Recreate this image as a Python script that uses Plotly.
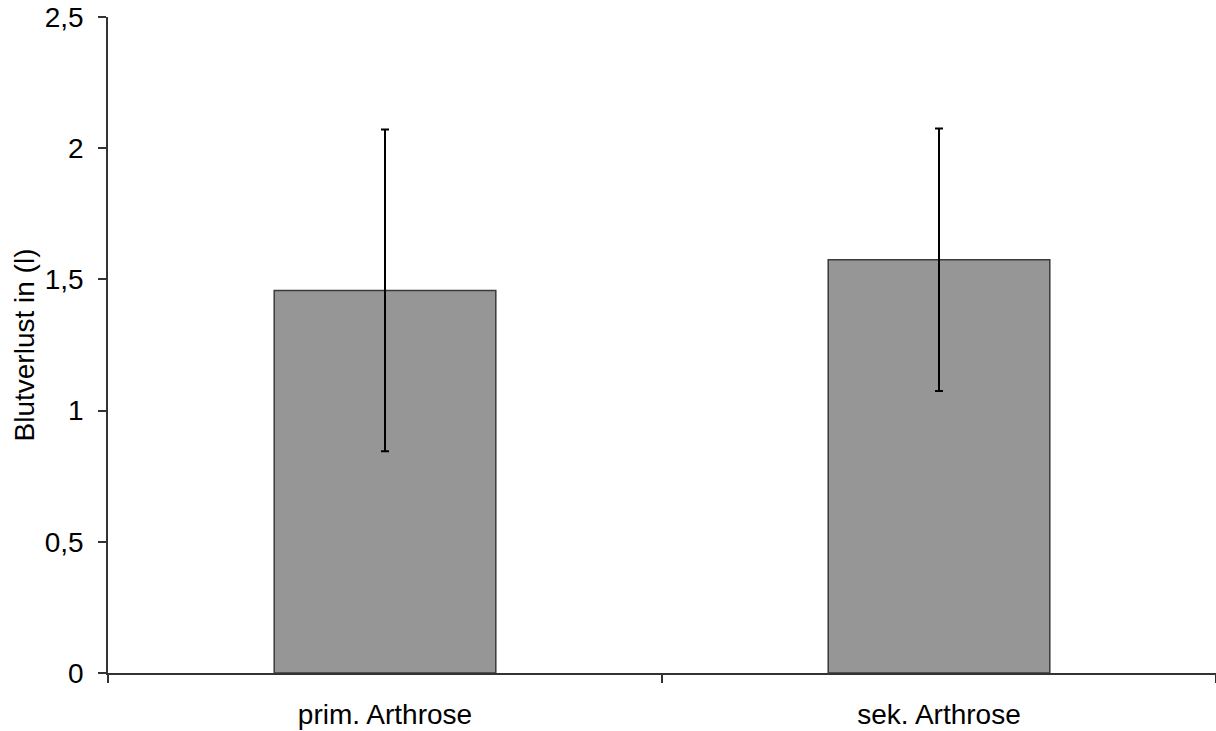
import plotly.graph_objects as go

categories = ["prim. Arthrose", "sek. Arthrose"]
means = [1.458, 1.575]
sd = [0.613, 0.50]
y_tickvals = [0, 0.5, 1, 1.5, 2, 2.5]
y_ticktext = ["0", "0,5", "1", "1,5", "2", "2,5"]

fig = go.Figure()
fig.add_trace(go.Bar(
    x=categories, y=means,
    marker=dict(color="#969696", line=dict(color="#3a3a3a", width=1.5)),
    error_y=dict(type="data", array=sd, visible=True, color="#000000", thickness=2, width=4),
    width=0.4,
))

font = "Liberation Sans, Arial, sans-serif"
fig.update_layout(
    width=1216, height=731,
    margin=dict(l=108, r=0, t=17, b=58),
    paper_bgcolor="white", plot_bgcolor="white",
    showlegend=False,
    font=dict(family=font, size=28, color="#000000"),
    xaxis=dict(
        showline=True, linecolor="#333333", linewidth=1.5,
        ticks="outside", ticklen=8, tickcolor="#333333", tickwidth=1.5,
        tickson="boundaries", showgrid=False, zeroline=False,
        tickfont=dict(size=28), ticklabelstandoff=16,
    ),
    yaxis=dict(
        range=[0, 2.5], tickvals=y_tickvals, ticktext=y_ticktext,
        showline=True, linecolor="#333333", linewidth=1.5,
        ticks="outside", ticklen=8, tickcolor="#333333", tickwidth=1.5,
        showgrid=False, zeroline=False,
        tickfont=dict(size=28), ticklabelstandoff=9,
        title=dict(text="Blutverlust in (l)", font=dict(size=28), standoff=2),
    ),
)

fig.write_html(
    "out.html",
    config={"displayModeBar": False},
    post_script="document.body.style.margin='0';document.body.style.overflow='hidden';",
)
